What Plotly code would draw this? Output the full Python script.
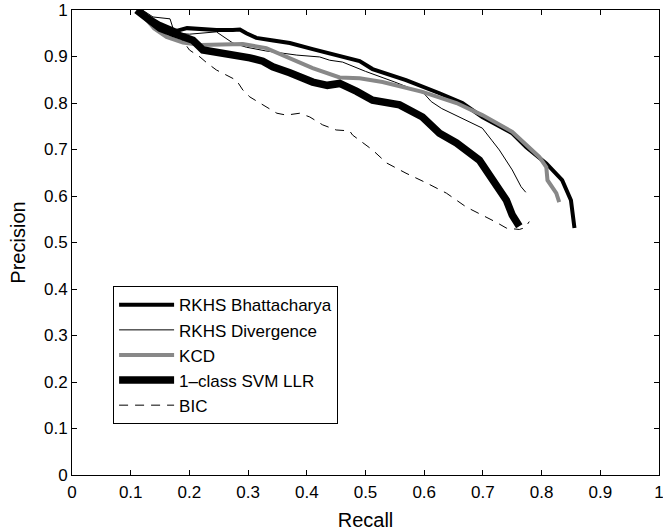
import plotly.graph_objects as go

# ---- data ----
bhat_x = [0.115, 0.13, 0.15, 0.178, 0.196, 0.22, 0.246, 0.274, 0.286, 0.297, 0.314, 0.34, 0.371, 0.41, 0.456, 0.49, 0.512, 0.569, 0.626, 0.665, 0.699, 0.75, 0.774, 0.808, 0.835, 0.85, 0.856]
bhat_y = [1.0, 0.985, 0.97, 0.955, 0.961, 0.959, 0.957, 0.957, 0.958, 0.95, 0.94, 0.935, 0.929, 0.916, 0.901, 0.89, 0.873, 0.849, 0.821, 0.80, 0.77, 0.735, 0.705, 0.67, 0.634, 0.591, 0.531]

div_x = [0.12, 0.138, 0.167, 0.172, 0.178, 0.2, 0.246, 0.274, 0.297, 0.33, 0.383, 0.422, 0.439, 0.461, 0.5, 0.55, 0.6, 0.612, 0.63, 0.66, 0.699, 0.715, 0.728, 0.75, 0.765, 0.773]
div_y = [1.0, 0.985, 0.981, 0.961, 0.95, 0.948, 0.953, 0.929, 0.92, 0.912, 0.903, 0.899, 0.892, 0.888, 0.868, 0.845, 0.82, 0.803, 0.788, 0.77, 0.746, 0.72, 0.699, 0.656, 0.62, 0.608]

kcd_x = [0.12, 0.14, 0.161, 0.189, 0.22, 0.246, 0.291, 0.331, 0.365, 0.41, 0.456, 0.49, 0.529, 0.597, 0.655, 0.699, 0.75, 0.796, 0.808, 0.81, 0.825, 0.83]
kcd_y = [0.99, 0.96, 0.942, 0.93, 0.925, 0.925, 0.927, 0.918, 0.9, 0.875, 0.855, 0.853, 0.845, 0.824, 0.80, 0.774, 0.738, 0.684, 0.662, 0.634, 0.606, 0.587]

svm_x = [0.11, 0.127, 0.138, 0.15, 0.172, 0.195, 0.206, 0.223, 0.25, 0.274, 0.303, 0.325, 0.342, 0.371, 0.41, 0.435, 0.456, 0.485, 0.512, 0.558, 0.597, 0.626, 0.655, 0.694, 0.716, 0.74, 0.75, 0.762]
svm_y = [1.0, 0.983, 0.968, 0.961, 0.95, 0.94, 0.935, 0.914, 0.908, 0.906, 0.897, 0.89, 0.878, 0.865, 0.845, 0.838, 0.842, 0.825, 0.806, 0.796, 0.77, 0.735, 0.714, 0.677, 0.634, 0.591, 0.559, 0.535]

bic_x = [0.18, 0.2, 0.218, 0.23, 0.246, 0.263, 0.28, 0.291, 0.303, 0.32, 0.349, 0.365, 0.388, 0.405, 0.427, 0.45, 0.473, 0.478, 0.512, 0.536, 0.569, 0.604, 0.638, 0.672, 0.699, 0.722, 0.74, 0.762, 0.772, 0.779]
bic_y = [0.95, 0.914, 0.899, 0.886, 0.871, 0.86, 0.849, 0.828, 0.813, 0.80, 0.778, 0.774, 0.778, 0.77, 0.753, 0.742, 0.74, 0.731, 0.699, 0.671, 0.649, 0.628, 0.606, 0.576, 0.559, 0.544, 0.531, 0.528, 0.532, 0.545]

tick_vals = [0, 0.1, 0.2, 0.3, 0.4, 0.5, 0.6, 0.7, 0.8, 0.9, 1]
tick_text = ["0", "0.1", "0.2", "0.3", "0.4", "0.5", "0.6", "0.7", "0.8", "0.9", "1"]

FONT = "Liberation Sans, Arial, Helvetica, sans-serif"

fig = go.Figure()
fig.add_trace(go.Scatter(x=bhat_x, y=bhat_y, mode="lines", name="RKHS Bhattacharya",
                         line=dict(color="black", width=4)))
fig.add_trace(go.Scatter(x=div_x, y=div_y, mode="lines", name="RKHS Divergence",
                         line=dict(color="black", width=1)))
fig.add_trace(go.Scatter(x=kcd_x, y=kcd_y, mode="lines", name="KCD",
                         line=dict(color="#888888", width=4)))
fig.add_trace(go.Scatter(x=svm_x, y=svm_y, mode="lines", name="1\u2013class SVM LLR",
                         line=dict(color="black", width=7.5)))
fig.add_trace(go.Scatter(x=bic_x, y=bic_y, mode="lines", name="BIC",
                         line=dict(color="black", width=1, dash="9px,7px")))

axis_common = dict(
    range=[0, 1], tickvals=tick_vals, ticktext=tick_text,
    ticks="inside", ticklen=5, tickcolor="black", tickwidth=1,
    showline=True, linecolor="black", linewidth=1, mirror="ticks",
    showgrid=False, zeroline=False, automargin=False,
    ticklabeloverflow="allow",
    tickfont=dict(family=FONT, size=17, color="black"),
)

fig.update_xaxes(**axis_common, ticklabelstandoff=2,
                 title=dict(text="Recall", font=dict(family=FONT, size=20, color="black"), standoff=14))
fig.update_yaxes(**axis_common, ticklabelstandoff=0,
                 title=dict(text="Precision", font=dict(family=FONT, size=20, color="black"), standoff=12))

fig.update_layout(
    width=663, height=531,
    margin=dict(l=72, r=4, t=10, b=56),
    plot_bgcolor="white", paper_bgcolor="white",
    font=dict(family=FONT, color="black"),
    legend=dict(
        x=0.070, y=0.406, xanchor="left", yanchor="top",
        bgcolor="white", bordercolor="black", borderwidth=1,
        font=dict(family=FONT, size=17, color="black"),
        itemwidth=55, tracegroupgap=0,
    ),
)

fig.write_html("out.html", config={"displayModeBar": False},
               post_script="document.body.style.margin='0';document.body.style.overflow='hidden';")
